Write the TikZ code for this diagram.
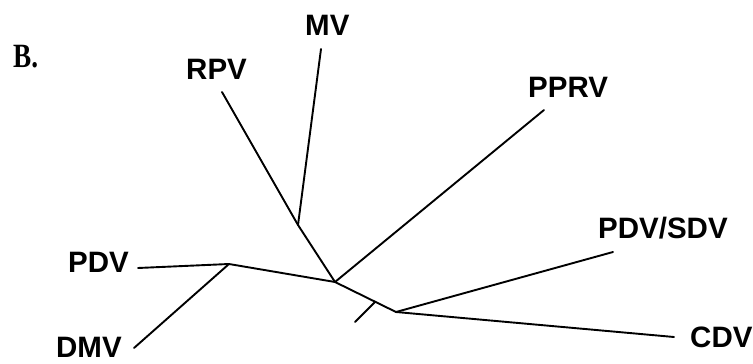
\documentclass[tikz,border=0pt]{standalone}
\usepackage{fontspec}
\usepackage{graphicx}
\setmainfont{Liberation Sans}
\newfontfamily\serifb{Liberation Serif}
\begin{document}
\begin{tikzpicture}[x=1pt,y=-1pt,
  lbl/.style={anchor=base west,inner sep=0pt,text depth=0pt,font=\fontsize{29.5}{30}\selectfont\bfseries},
  branch/.style={line width=1.9pt,line cap=round,line join=round}]
\useasboundingbox (0,0) rectangle (753,364);
% labels
\node[anchor=base west,inner sep=0pt,font=\fontsize{34}{36}\selectfont\serifb\bfseries] (title) at (13,67) {\scalebox{0.8}[1]{B.}};
\node[lbl] (rpv) at (186,79) {RPV};
\node[lbl] (mv) at (305,35) {MV};
\node[lbl] (pprv) at (528,97) {PPRV};
\node[lbl] (pdvsdv) at (598,238) {PDV/SDV};
\node[lbl] (pdv) at (68,272) {PDV};
\node[lbl] (dmv) at (56,357) {DMV};
\node[lbl] (cdv) at (690,347) {CDV};
% tree coordinates
\coordinate (eRPV) at (222,92);
\coordinate (eMV) at (321,49);
\coordinate (ePPRV) at (544,110);
\coordinate (ePDVSDV) at (613,252);
\coordinate (eCDV) at (674,337);
\coordinate (ePDV) at (138,268);
\coordinate (eDMV) at (134,348);
\coordinate (jRM) at (298,225);
\coordinate (jC) at (335,282);
\coordinate (jL) at (396,312);
\coordinate (jP) at (229,264);
\coordinate (sA) at (375,302);
\coordinate (sB) at (355,322);
% branches
\draw[branch] (eRPV) -- (jRM);
\draw[branch] (eMV) -- (jRM);
\draw[branch] (jRM) -- (jC);
\draw[branch] (ePPRV) -- (jC);
\draw[branch] (ePDV) -- (jP);
\draw[branch] (eDMV) -- (jP);
\draw[branch] (jP) -- (jC);
\draw[branch] (jC) -- (jL);
\draw[branch] (jL) -- (ePDVSDV);
\draw[branch] (jL) -- (eCDV);
\draw[branch] (sA) -- (sB);
\end{tikzpicture}
\end{document}
